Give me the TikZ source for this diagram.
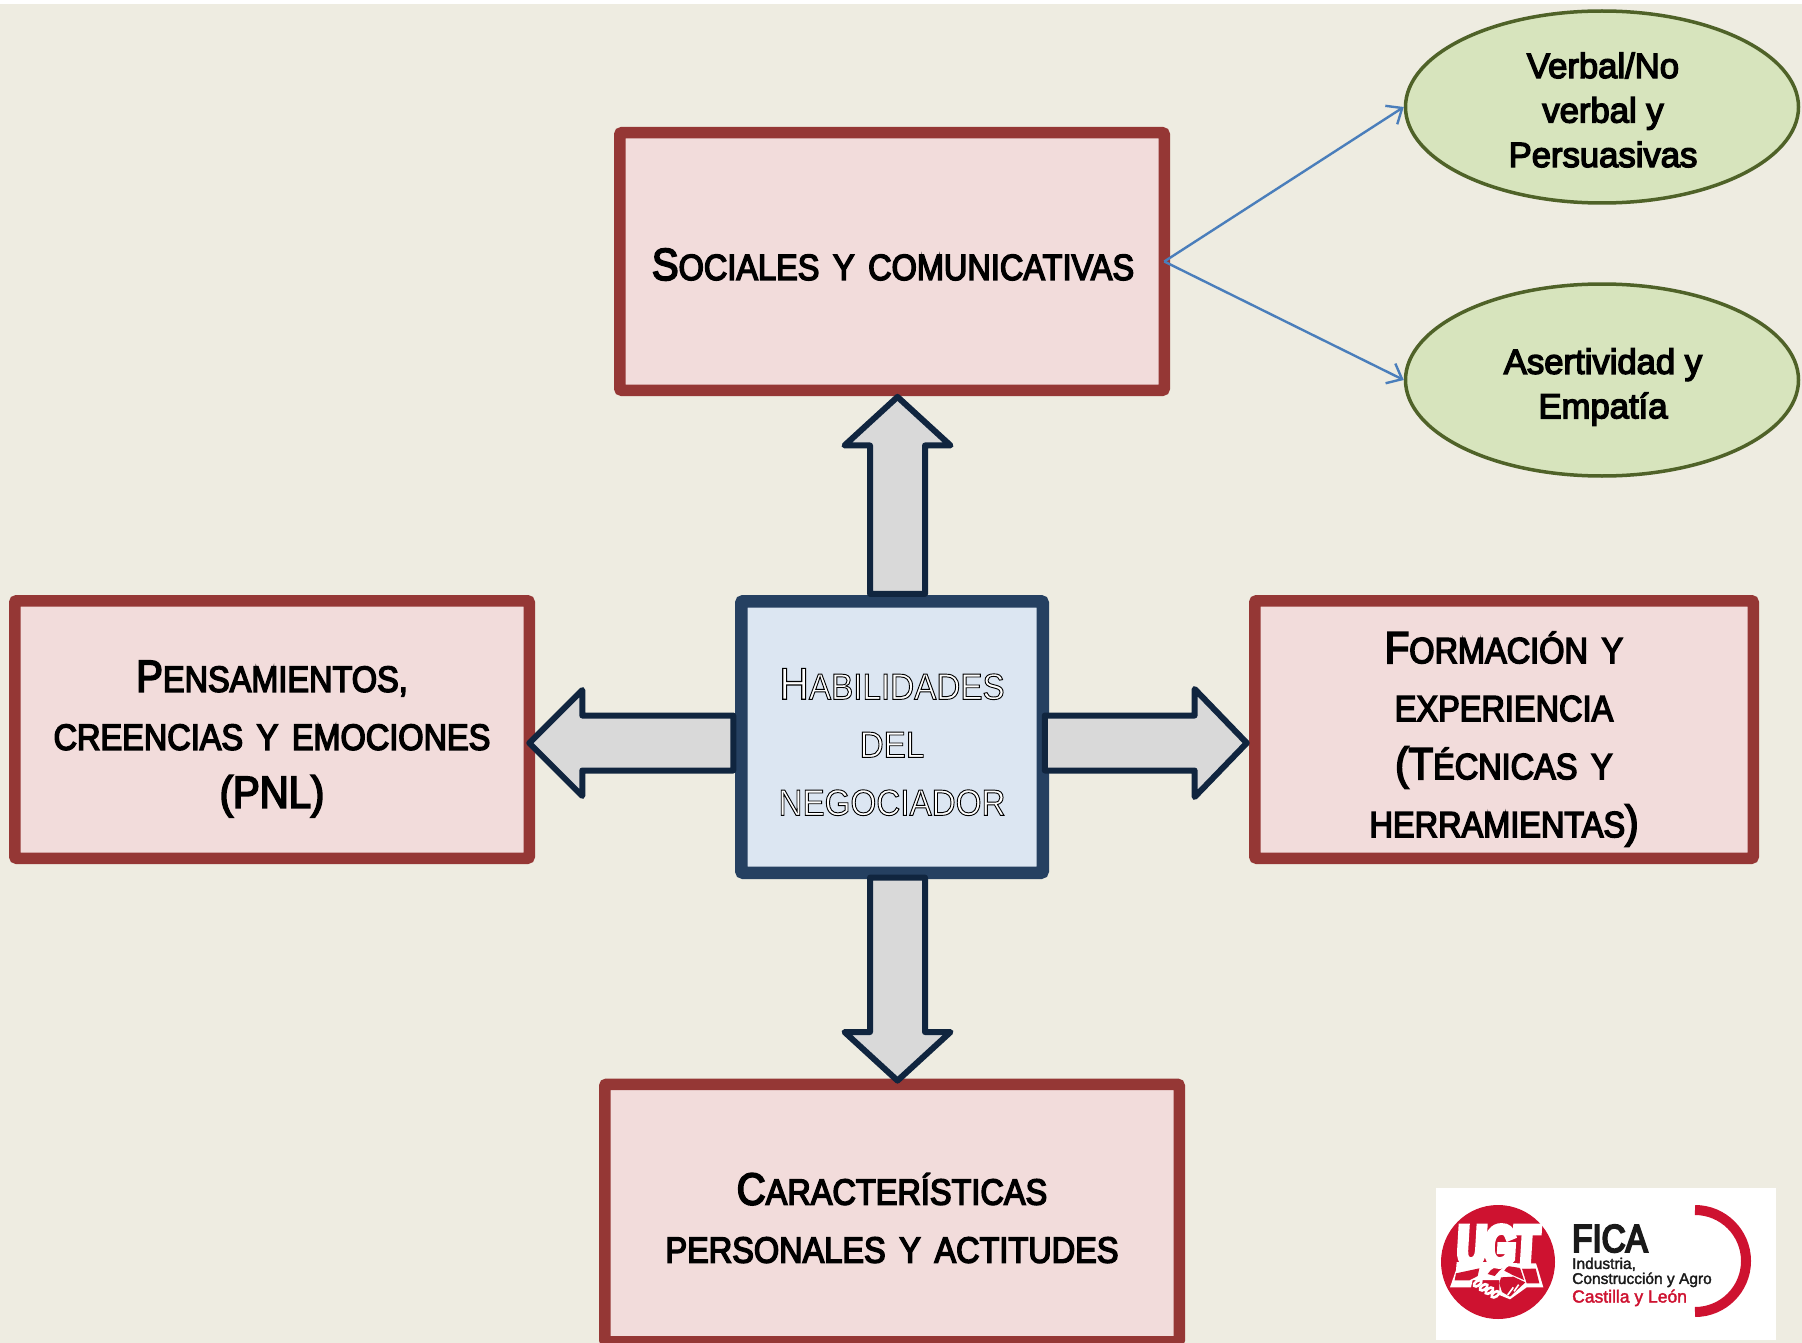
\documentclass[tikz,border=0pt]{standalone}
\usepackage{fontspec}
\usetikzlibrary{shapes.geometric,shapes.arrows,arrows.meta}
\setmainfont{Liberation Sans}
\newfontfamily\labfont[FakeStretch=0.89,FakeBold=4,WordSpace=1.5]{Liberation Sans}
\newfontfamily\outfont[FakeStretch=0.91,FakeBold=2.5,WordSpace=1.5]{Liberation Sans}
\newfontfamily\ovalfont[FakeStretch=0.99,FakeBold=4]{Liberation Sans}
\newfontfamily\ugtfont[FakeStretch=0.7,FakeBold=14,FakeSlant=0.06]{Liberation Sans}
\newfontfamily\ficafont[FakeStretch=0.85,FakeBold=5]{Liberation Sans}
\newfontfamily\logosmall[FakeBold=2]{Liberation Sans}
\newcommand\capsz{\fontsize{45}{58}\selectfont}
\newcommand\smcap{\fontsize{36.5}{58}\selectfont}
\definecolor{bgc}{HTML}{EEECE1}
\definecolor{redb}{HTML}{953735}
\definecolor{redf}{HTML}{F2DCDB}
\definecolor{blueb}{HTML}{254061}
\definecolor{bluef}{HTML}{DCE6F2}
\definecolor{arrb}{HTML}{10253F}
\definecolor{arrf}{HTML}{D9D9D9}
\definecolor{ovb}{HTML}{4F6228}
\definecolor{ovf}{HTML}{D7E4BD}
\definecolor{conn}{HTML}{4A7EBB}
\definecolor{ugtred}{HTML}{CE1230}
\definecolor{ficak}{HTML}{1A1A1A}
\tikzset{
 catbox/.style={draw=redb,fill=redf,line width=11.5pt,rounded corners=2pt,inner sep=0pt,outer sep=0pt},
 hubbox/.style={draw=blueb,fill=bluef,line width=12.5pt,rounded corners=2pt,inner sep=0pt,outer sep=0pt},
 oval/.style={ellipse,draw=ovb,fill=ovf,line width=3.5pt,inner sep=0pt,minimum width=393pt,minimum height=192pt},
 cattext/.style={align=center,inner sep=0pt,font=\labfont\smcap,text=black},
 hubtext/.style={align=center,inner sep=0pt,font=\outfont\smcap},
 ovaltext/.style={align=center,inner sep=0pt,font=\ovalfont\fontsize{35}{44.5}\selectfont,text=black},
 blockarrow/.style={single arrow,draw=arrb,fill=arrf,line width=6pt,line join=round,inner sep=0pt,outer sep=0pt,
   single arrow head indent=0pt,text height=49pt,text depth=0pt},
 linkarrow/.style={draw=conn,line width=2.4pt,-{Straight Barb[length=13pt,width=22pt,line width=2.4pt]}},
 logotext/.style={anchor=base west,inner sep=0pt},
}
\newcommand\outl[1]{{\color{white}\special{pdf:code 0 0 0 RG}#1}}
\begin{document}
\begin{tikzpicture}[x=1pt,y=-1pt]
\useasboundingbox (0,0) rectangle (1802,1343);
\clip (0,0) rectangle (1802,1343);
\fill[white] (0,0) rectangle (1802,4);
\fill[bgc] (0,4) rectangle (1802,1343);

% boxes
\node[catbox,minimum width=544.5pt,minimum height=257.5pt] (soc) at (892,261.5) {};
\node[catbox,minimum width=514.5pt,minimum height=257.5pt] (pen) at (272,729.5) {};
\node[catbox,minimum width=498.5pt,minimum height=257.5pt] (for) at (1504,729.5) {};
\node[catbox,minimum width=574.5pt,minimum height=257.5pt] (car) at (892,1213) {};
\node[hubbox,minimum width=301.5pt,minimum height=271.5pt] (hub) at (892,737) {};

% block arrows
\node[blockarrow,rotate=90,minimum height=197pt,minimum width=100pt,single arrow head extend=25.5pt,single arrow tip angle=95] (aup) at (897.5,508) {};
\node[blockarrow,rotate=-90,minimum height=203pt,minimum width=100pt,single arrow head extend=25.5pt,single arrow tip angle=95] (adown) at (897.5,966.5) {};
\node[blockarrow,rotate=180,minimum height=204pt,minimum width=100pt,single arrow head extend=25.5pt,single arrow tip angle=90] (aleft) at (645,743) {};
\node[blockarrow,minimum height=202pt,minimum width=102pt,single arrow head extend=26.5pt,single arrow tip angle=92] (aright) at (1132.5,743) {};

% ovals
\node[oval] (ov1) at (1602,107) {};
\node[oval] (ov2) at (1602,380) {};
\draw[linkarrow] (soc.east) -- (ov1.west);
\draw[linkarrow] (soc.east) -- (ov2.west);

% texts
\node[cattext] (tsoc) at (893,264.5) {{\capsz S}OCIALES Y COMUNICATIVAS};
\node[cattext] (tpen) at (272,739) {{\capsz P}ENSAMIENTOS,\\CREENCIAS Y EMOCIONES\\{\capsz (PNL)}};
\node[cattext] (tfor) at (1504,739) {{\capsz F}ORMACIÓN Y\\EXPERIENCIA\\{\capsz (T}ÉCNICAS Y\\HERRAMIENTAS{\capsz )}};
\node[cattext] (tcar) at (892,1218) {{\capsz C}ARACTERÍSTICAS\\PERSONALES Y ACTITUDES};
\node[hubtext] (thub) at (892,742) {\outl{{\capsz H}ABILIDADES}\\\outl{DEL}\\\outl{NEGOCIADOR}};
\node[ovaltext] (tov1) at (1603,110) {Verbal/No\\verbal y\\Persuasivas};
\node[ovaltext] (tov2) at (1603,387) {Asertividad y\\Empatía};

% logo
\node[fill=white,minimum width=340pt,minimum height=152pt,inner sep=0pt] (logo) at (1606,1264) {};
\node[circle,fill=ugtred,minimum size=114pt,inner sep=0pt] (ugtdisc) at (1498,1262) {};
\begin{scope}[shift={(1436,1200)},scale=1/3]
 \fill[white] (60,210) -- (62,186) -- (140,186) -- (250,190) -- (300,190) -- (305,205) -- (322,262) -- (272,262) -- (222,298) -- (190,285) -- (190,240) -- (110,240) -- (105,262) -- (42,262) -- cycle;
 \fill[ugtred] (56,241) -- (60,220) -- (130,205) -- (125,228) -- (100,241) -- cycle;
 \fill[ugtred] (258,206) -- (299,206) -- (310,250) -- (272,250) -- cycle;
 \fill[ugtred] (155,222) .. controls (165,205) and (185,195) .. (205,200) -- (190,212) -- (176,228) -- cycle;
 \fill[ugtred] (215,198) -- (252,204) -- (264,240) -- (230,225) -- (205,212) -- cycle;
 \fill[ugtred] (195,232) -- (232,230) -- (268,247) -- (222,290) -- (198,276) -- (190,250) -- cycle;
 \draw[white,line width=1.6pt] (215,285) -- (232,262);
 \draw[white,line width=1.6pt] (234,274) -- (248,254);
 \foreach \a/\b in {125/250,143/262,160/272,178/283}
  \draw[white,fill=ugtred,line width=2.6pt,rotate around={35:(\a,\b)}] (\a,\b) ellipse (13 and 7);
\end{scope}
\node[inner sep=0pt,text=white,font=\ugtfont\fontsize{54}{54}\selectfont] (ugt) at (1497,1246) {UGT};
\draw[ugtred,line width=10pt] (1695,1210) arc[start angle=-90,end angle=90,radius=51];
\node[logotext,text=ficak,font=\ficafont\fontsize{39}{39}\selectfont] (fica) at (1572,1252) {FICA};
\node[anchor=north west,inner sep=0pt,align=left,text=ficak,font=\logosmall\fontsize{15.5}{15}\selectfont] (ind) at (1572,1257.5) {Industria,\\Construcción y Agro\\[1.5pt]{\color{ugtred}\fontsize{17.5}{15}\selectfont Castilla y León}};
\end{tikzpicture}
\end{document}
